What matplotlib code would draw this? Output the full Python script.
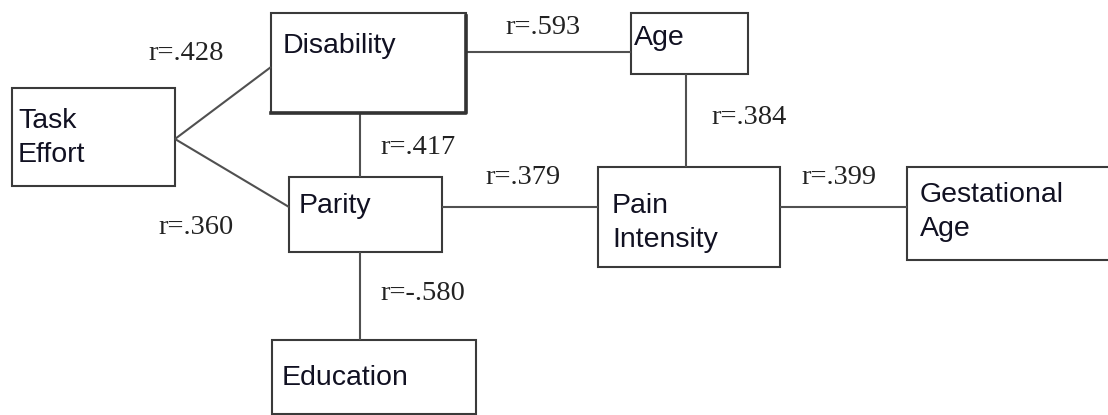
import matplotlib
matplotlib.use("Agg")
import matplotlib.pyplot as plt
from matplotlib.patches import Rectangle

# nodes of the diagram and the correlations between them
nodes = ["Task\nEffort", "Disability", "Age", "Parity",
         "Pain\nIntensity", "Gestational\nAge", "Education"]
edge_from = ["Task\nEffort", "Task\nEffort", "Disability", "Disability",
             "Age", "Parity", "Pain\nIntensity", "Parity"]
edge_to = ["Disability", "Parity", "Age", "Parity",
           "Pain\nIntensity", "Pain\nIntensity", "Gestational\nAge", "Education"]
r_values = [".428", ".360", ".593", ".417", ".384", ".379", ".399", "-.580"]

# layout in pixels (x0, y0, x1, y1) and where each line attaches
boxes = {
    "Task\nEffort": (12, 88, 175, 186),
    "Disability": (271, 13, 466, 113),
    "Age": (631, 13, 748, 74),
    "Parity": (289, 177, 442, 252),
    "Pain\nIntensity": (598, 167, 780, 267),
    "Gestational\nAge": (907, 167, 1112, 260),
    "Education": (272, 340, 476, 414),
}
text_pos = {
    "Task\nEffort": (18, 128),
    "Disability": (283, 53),
    "Age": (634, 45),
    "Parity": (299, 213),
    "Pain\nIntensity": (612, 213),
    "Gestational\nAge": (920, 202),
    "Education": (282, 385),
}
lines = [
    ((175, 139), (271, 67)),
    ((175, 139), (289, 207)),
    ((466, 52), (631, 52)),
    ((360, 113), (360, 177)),
    ((686, 74), (686, 167)),
    ((442, 207), (598, 207)),
    ((780, 207), (907, 207)),
    ((360, 252), (360, 340)),
]
label_pos = [(148, 53), (158, 227), (505, 27), (380, 147),
             (711, 117), (485, 177), (801, 177), (380, 293)]

fig = plt.figure(figsize=(11.08, 4.15), dpi=100)
ax = fig.add_axes([0, 0, 1, 1])
ax.set_xlim(0, 1108)
ax.set_ylim(415, 0)
ax.axis("off")

line_color = "#505050"
box_color = "#3a3a3a"

for (p0, p1) in lines:
    ax.plot([p0[0], p1[0]], [p0[1], p1[1]], color=line_color, lw=1.5,
            solid_capstyle="butt")

for name in nodes:
    x0, y0, x1, y1 = boxes[name]
    ax.add_patch(Rectangle((x0, y0), x1 - x0, y1 - y0, facecolor="white",
                           edgecolor=box_color, lw=1.5))
    tx, ty = text_pos[name]
    for i, part in enumerate(name.split("\n")):
        ax.text(tx, ty + i * 34, part, ha="left", va="baseline",
                fontsize=20.5, family="Liberation Sans", color="#111122")

# heavier right / bottom edge on the Disability box
x0, y0, x1, y1 = boxes["Disability"]
ax.plot([x1, x1, x0], [y0 + 3, y1, y1], color="#333333", lw=2.6)

for r, (lx, ly) in zip(r_values, label_pos):
    ax.text(lx, ly, "r=" + r, ha="left", va="center", fontsize=20.5,
            family="Liberation Serif", color="#222222")

fig.savefig("out.png", dpi=100, facecolor="white")
